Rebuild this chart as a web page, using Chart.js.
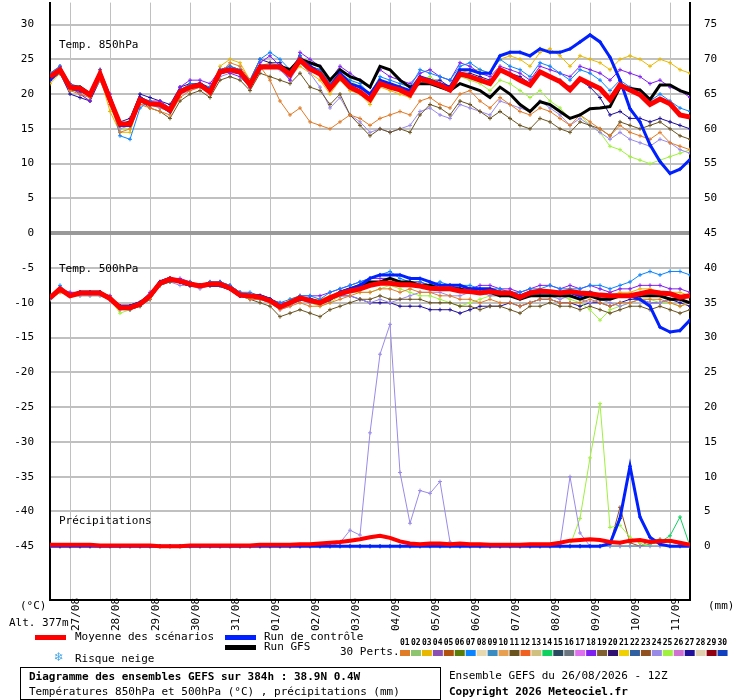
<!DOCTYPE html>
<html>
<head>
<meta charset="utf-8">
<script src="https://cdn.jsdelivr.net/npm/chart.js@4/dist/chart.umd.min.js"></script>
<style>
  body { margin: 0; background: #fff; overflow: hidden; }
  canvas { display: block; margin-top: -20px; }
</style>
</head>
<body>
<canvas id="gefs" width="740" height="720"></canvas>
<script>
// 6-hourly steps from 26/08 12Z, 65 points (0..384h)
const jours = ['27/08','28/08','29/08','30/08','31/08','01/09','02/09','03/09','04/09','05/09','06/09','07/09','08/09','09/09','10/09','11/09'];

// 850 hPa (°C)
const moy850 = [22.5,23.5,21,20.8,19.9,22.9,19.2,15.7,15.7,19.2, 18.6,18.5,17.7,20.3,21,21.3,20.3,23.2,23.5,23.2, 21.3,23.9,23.9,23.9,22.8,24.9,23.6,22.9,20.8,22.5, 21,20.3,19.2,21.5,21,20.6,19.9,22.2,21.8,21.3, 20.6,22.9,22.5,22,21.5,23.5,22.8,22,21.3,23.2, 22.5,21.8,20.6,22.2,21.5,20.8,19.2,21.3,20.6,19.9, 18.5,19.3,18.6,17,16.7];
const ctrl850 = [22,23.5,21,20.5,20,23,19.5,15.5,15.5,19.5, 18.5,18.5,17.5,20.5,21,21.5,20.5,23,23.5,23, 21.5,24,24,24,23,25,24,23,21,23, 21.5,21,20,22,21.5,21,20.5,22.5,22,21.5, 21,23.5,23.5,23,23,25.5,26,26,25.5,26.5, 26,26,26.5,27.5,28.5,27.5,25.3,22,17.9,16, 12.7,10.3,8.6,9.2,10.6];
const gfs850 = [22.5,23.5,21,21,20,23,19,15.5,16,19.5, 18.5,18.5,17.5,20.5,21,21.5,20.5,23,23.5,23, 21.5,24,24,24,23.5,25,24.5,24,22,23.5, 22.5,22,21,24,23.5,22,21,21.5,21.5,21, 20.5,21.5,21,20.5,19.5,21,20,18.5,17.5,18.9, 18.5,17.5,16.5,17,17.9,18,18.2,21,20.8,20.6, 19.2,21.3,21.3,20.5,20];
const p01_850 = [22,23,20.5,20,19.5,22,18.5,14.5,15,18.5, 18,17.5,17,19.5,20.5,21,20,23,24.5,24, 22,24,22,19,17,18,16,15.5,15,16, 17,16.5,15.5,16.5,17,17.5,17,19,19.5,18.5, 18,20,20.5,19,18,19.5,18.5,17.5,17,18, 17.5,16.5,15.5,17,16,15,14,15.5,14.5,14, 13.5,14.5,13,12.5,12];
const p07_850 = [23,24,21.5,21,20,23.5,19.5,14,13.5,18, 19,18.5,18,20.5,21.5,21.5,21,23.5,24,23.5, 22,25,26,25,23.5,25.5,24,23.5,21.5,23, 22,21.5,20,22.5,22,21.5,21,23.5,23,22.5, 22,24,24.5,23.5,23,25,24,23.5,22.5,24.5, 24,23,22,23.5,23,22,20.5,22,21,20.5, 19,20,19,18,17.5];
const p11_850 = [22,23,20.5,20.5,19.5,22.5,19,15.5,16,19, 18,17.5,16.5,19,20,20.5,19.5,22,22.5,22, 20.5,23,22.5,22,21.5,23,21,20.5,18.5,20, 17,15.5,14,15,14.5,15,14.5,17,18.5,18, 17,19,18.5,17.5,16.5,17.5,16.5,15.5,15,16.5, 16,15,14.5,16,15.5,15,14,16,15.5,15, 15.5,16,15,14,13.5];
const p18_850 = [22,24,21,20,19,23.5,20,16,15.5,19.5, 19,19,18,21,22,22,21.5,23.5,23,22.5, 21,24.5,25.5,24,22,26,25,24,22,24, 23,22,21,23.5,22.5,22,21.5,23,23.5,22.5, 22,24.5,24,23,22.5,24,23.5,23,22,24, 23.5,23,22.5,24,23.5,23,22,23.5,23,22.5, 21.5,22,21,20.5,19.5];
const p24_850 = [23,24,21.5,20,19.5,22,18.5,15,15.5,18.5, 18.5,18,17.5,20,20.5,21,20,22.5,23,23, 21,23.5,24,23.5,22,24.5,23,21,18,19.5, 17,16,14.5,15,14.5,15,15.5,17.5,18,17, 16.5,18.5,18,17.5,17,19,18.5,18,17.5,19, 18,17,15.5,16.5,15.5,14.5,13.5,14.5,13.5,13, 12.5,13.5,13,12,11.5];
const p25_850 = [22,23.5,21,21,20,23,19.5,15,15,19, 19,18.5,18,20.5,21,21.5,20.5,23,23.5,23.5, 21.5,24,24,24,23,25,24,23,21,23, 22,21,20,22,21.5,21,20.5,22,22.5,21.5, 21,22.5,22,21.5,20.5,22,21.5,20.5,19.5,20.5, 19,18,16.5,17,15.5,14.5,12.5,12,11,10.5, 10,10.5,11,11.5,12];
const p27_850 = [22,23,20,19.5,19,22,19,16,16.5,20, 19.5,19,18.5,21,21.5,21.5,20.5,23.5,24,23.5, 22,25,24.5,24.5,23,25.5,24,23.5,21.5,23, 21.5,21,20,22,21.5,21,20.5,22.5,22,22, 21,23,23,22.5,22,23.5,23,22.5,21.5,23, 22.5,22,21,22,21,19.5,17,17.5,16.5,16.5, 16,16.5,16,15.5,15];
const p03_850 = [21.5,23,21,20,19,22.5,17.5,14.5,14.5,19, 18.5,18,17.5,20,21,21.5,20.5,24,25,24.5, 22,24,24.5,24,22.5,24,23,22,20,22, 20.5,20,18.5,21,20.5,20,19.5,22,22,21, 20.5,23,23.5,23.5,23,25,25.5,25,24,26, 26.5,25.5,24,25.5,25,24.5,23.5,25,25.5,25, 24,25,24.5,23.5,23];

// 500 hPa (°C)
const moy500 = [-9.3,-8,-9,-8.6,-8.6,-8.6,-9.4,-10.7,-10.7,-10.2, -9,-7.2,-6.6,-6.9,-7.3,-7.6,-7.3,-7.3,-7.9,-8.9, -9,-9.2,-9.7,-10.6,-10,-9.3,-9.7,-10,-9.3,-8.7, -8.3,-8,-7.5,-7.2,-7.2,-7.4,-7.4,-7.6,-7.9,-8, -8,-8.3,-8.4,-8.6,-8.4,-8.6,-8.6,-9.2,-8.6,-8.3, -8.4,-8.6,-8.4,-8.6,-8.7,-8.9,-9,-9,-9,-8.7, -8.4,-8.6,-8.7,-9.2,-9];
const ctrl500 = [-9.3,-8,-9,-8.5,-8.5,-8.5,-9.5,-10.5,-10.5,-10, -9,-7,-6.5,-7,-7.5,-7.5,-7.5,-7.5,-8,-9, -9,-9,-9.5,-10.5,-10,-9.5,-9.5,-10,-9.5,-8.5, -8,-7.5,-6.5,-6,-6,-6,-6.5,-6.5,-7,-7.5, -7.5,-7.5,-8,-8,-8,-8.5,-8.5,-9,-8.5,-8.5, -8.5,-8.5,-8.5,-9,-8.5,-9,-9,-9,-9,-9.5, -10.5,-13.5,-14.2,-14,-12.5];
const gfs500 = [-9.3,-8,-9,-8.5,-8.5,-8.5,-9.5,-10.5,-10.5,-10, -9,-7,-6.5,-7,-7.5,-7.5,-7.5,-7.5,-8,-9, -9,-9,-9.5,-10.5,-10,-9.5,-9.5,-10,-9.5,-8.5, -8,-7.5,-7,-7,-6.5,-7,-7,-7.5,-7.5,-8, -8,-8,-8.5,-8.5,-8.5,-9,-9,-9.5,-9,-9, -9,-9,-9,-9.5,-9,-9.5,-9.5,-9,-9,-9, -9,-9,-9.5,-9.5,-10];
const p01_500 = [-9.5,-8.5,-9,-8.5,-8.5,-8.5,-9.5,-11,-10.5,-10, -9.5,-7.5,-6.5,-7,-7.5,-7.5,-7.5,-7.5,-8,-9, -9.5,-9.5,-10,-11,-10.5,-10,-10.5,-10.5,-10,-9.5, -9,-8.5,-8.5,-8,-8,-8.5,-8,-8.5,-8.5,-9, -9,-9.5,-9.5,-10,-9.5,-10,-10,-10.5,-10,-9.5, -9.5,-10,-10,-10,-9.5,-10,-10.5,-10,-10,-9.5, -9.5,-9.5,-10,-10.5,-10];
const p07_500 = [-9.5,-7.5,-9,-8.5,-8.5,-8.5,-9.5,-10.5,-10.5,-10, -9,-7,-6.5,-7,-7,-7.5,-7,-7,-7.5,-8.5, -8.5,-9,-9.5,-10,-9.5,-9,-9,-9.5,-8.5,-8, -7.5,-7,-6.5,-6,-5.5,-6.5,-7,-7,-7.5,-7, -7.5,-7.5,-7.5,-8,-8,-8,-8.5,-8.5,-8,-8, -7.5,-8,-8,-8,-7.5,-7.5,-8,-7.5,-7,-6, -5.5,-6,-5.5,-5.5,-6];
const p11_500 = [-9,-8,-9,-8.5,-8.5,-8.5,-9.5,-10.5,-11,-10.5, -9.5,-7.5,-7,-7,-7.5,-7.5,-7.5,-7.5,-8,-9, -9.5,-10,-10.5,-12,-11.5,-11,-11.5,-12,-11,-10.5, -10,-9.5,-9.5,-9,-9.5,-9.5,-9.5,-9.5,-10,-10, -10,-10.5,-10.5,-11,-10.5,-10.5,-11,-11.5,-10.5,-10.5, -10,-10.5,-10.5,-11,-10.5,-11,-11.5,-11,-10.5,-10.5, -11,-10.5,-11,-11.5,-11];
const p18_500 = [-9,-8,-8.5,-8.5,-8.5,-8.5,-9,-10.5,-10.5,-10, -8.5,-7,-6.5,-6.5,-7,-7.5,-7,-7,-7.5,-8.5, -9,-9,-9.5,-10,-10,-9,-9,-9,-8.5,-8, -7.5,-7,-6.5,-6.5,-6.5,-7,-7,-7,-7.5,-7.5, -7.5,-8,-8,-7.5,-7.5,-8,-8,-8.5,-8,-7.5, -7.5,-8,-7.5,-8,-7.5,-8,-8.5,-8,-8,-7.5, -7.5,-7.5,-8,-8,-8.5];
const p24_500 = [-9.5,-8,-9,-9,-9,-9,-9.5,-11,-11,-10.5, -9.5,-7.5,-7,-7.5,-7.5,-8,-7.5,-7.5,-8,-9, -9.5,-9.5,-10,-11,-10.5,-9.5,-10,-10,-9.5,-9, -9,-9.5,-10,-9.5,-10,-9.5,-9,-8.5,-8.5,-8.5, -9,-9,-8.5,-8.5,-9,-9,-9,-9.5,-9,-9, -9,-9.5,-9,-9.5,-10,-9.5,-10,-10.5,-10,-9.5, -10,-10,-9.5,-9.5,-10];
const p25_500 = [-9.5,-8.5,-9,-9,-9,-9,-9.5,-11.5,-11,-10.5, -9,-7,-6.5,-7,-7.5,-7.5,-7.5,-7.5,-8,-9, -9,-9.5,-10,-10.5,-10,-9.5,-10,-10.5,-10,-9, -8.5,-8.5,-8.5,-8,-7.5,-8,-8.5,-9,-9,-9.5, -10,-10.5,-10,-9.5,-9,-9,-9,-9.5,-9,-8.5, -8.5,-9,-9.5,-10,-11,-12.5,-11,-10.5,-10,-9.5, -9.5,-10,-10,-10.5,-10];
const p27_500 = [-9,-8,-9,-8.5,-8.5,-8.5,-9.5,-10.5,-10.5,-10, -9,-7,-6.5,-7,-7.5,-7.5,-7.5,-7,-8,-9, -9,-9.5,-9.5,-10.5,-10,-9.5,-10,-10,-9.5,-9, -9,-9.5,-10,-10,-10,-10.5,-10.5,-10.5,-11,-11, -11,-11.5,-11,-10.5,-10.5,-10.5,-10,-10.5,-10,-9.5, -9.5,-10,-10,-10.5,-10,-10,-10.5,-10,-9.5,-9.5, -10,-10,-9.5,-10,-10.5];
const p03_500 = [-9,-8,-9,-8.5,-8.5,-8.5,-9,-10.5,-10.5,-10, -9,-7.5,-6.5,-7,-7,-7.5,-7,-7,-7.5,-8.5, -9,-9,-9.5,-10.5,-9.5,-9,-9.5,-9.5,-9,-8.5, -8,-7.5,-7.5,-7,-7,-7,-7,-7.5,-7.5,-7.5, -8,-8,-8,-8.5,-8.5,-9,-9,-9,-8.5,-8.5, -8.5,-8.5,-8,-8.5,-8.5,-9,-9,-8.5,-8.5,-8, -8,-8.5,-8.5,-8.5,-9];

// précipitations (mm)
const moyPrec = [0.2,0.2,0.2,0.2,0.2,0.1,0.1,0.1,0.1,0.1, 0.1,0,0,0,0.1,0.1,0.1,0.1,0.1,0.1, 0.1,0.2,0.2,0.2,0.2,0.3,0.3,0.4,0.5,0.6, 0.8,1,1.3,1.5,1.2,0.7,0.4,0.3,0.4,0.4, 0.3,0.4,0.3,0.3,0.2,0.2,0.2,0.2,0.3,0.3, 0.3,0.5,0.8,0.9,1,0.9,0.6,0.5,0.8,0.9, 0.6,0.7,0.8,0.5,0.2];
const ctrlPrec = [0,0,0,0,0,0,0,0,0,0, 0,0,0,0,0,0,0,0,0,0, 0,0,0,0,0,0,0,0,0,0, 0,0,0,0,0,0,0,0,0,0, 0,0,0,0,0,0,0,0,0,0, 0,0,0,0,0,0,0.4,4,11.5,4.2, 1.3,0.3,0,0,0];
const p24Prec = [0,0,0,0,0,0,0,0,0,0, 0,0,0,0,0,0,0,0,0,0, 0,0,0,0,0,0,0,0,0,0.5, 2.3,1.6,16.3,27.6,31.9,10.6,3.3,8,7.6,9.3, 0.6,0,0,0,0,0,0,0,0,0, 0,0.2,10,1.9,0,0,0,0,0,0, 0,0,0,0,0];
const p25Prec = [0,0,0,0,0,0,0,0,0,0, 0,0,0,0,0,0,0,0,0,0, 0,0,0,0,0,0,0,0,0,0, 0,0,0,0,0,0,0,0,0,0, 0,0,0,0,0,0,0,0,0,0, 0,0,0.1,4,12.7,20.5,2.7,3,1.3,0.4, 0,0,0,0,0];
const p23Prec = [0,0,0,0,0,0,0,0,0,0, 0,0,0,0,0,0,0,0,0,0, 0,0,0,0,0,0,0,0,0,0, 0,0,0,0,0,0,0,0,0,0, 0,0,0,0,0,0,0,0,0,0, 0,0,0,0,0,0,0.3,5.6,0.5,0, 0.8,1,0.6,0.3,0];
const p14Prec = [0,0,0,0,0,0,0,0,0,0, 0,0,0,0,0,0,0,0,0,0, 0,0,0,0,0,0,0,0,0,0, 0,0,0,0,0,0,0,0,0,0, 0,0,0,0,0,0,0,0,0,0, 0,0,0,0,0,0,0,0,0,0, 0.3,0.6,1.5,4.2,0];

const couleursPerts = ['#e07b28','#8cc56d','#e8b800','#8a4fb0','#b0520e','#5a7d0a','#0a84ff','#e8d8b0','#3a8cc0','#e8a050',
  '#6b5320','#f06020','#d0c080','#10d060','#2a4860','#6a7580','#e070f0','#8020f0','#806030','#301070',
  '#f0d000','#3060a0','#905020','#9a8ae8','#a0f040','#d070d0','#20109a','#e0d0b0','#900010','#1040c0'];

const membres = [
  ['01', p01_850, p01_500], ['07', p07_850, p07_500], ['11', p11_850, p11_500], ['18', p18_850, p18_500],
  ['24', p24_850, p24_500], ['25', p25_850, p25_500], ['27', p27_850, p27_500], ['03', p03_850, p03_500]
];
const precMembres = [['24', p24Prec], ['25', p25Prec], ['23', p23Prec], ['14', p14Prec]];

function pts(arr) {
    return arr.map((v, i) => ({ x: i, y: v }));
}
function serie(arr, couleur, largeur, ordre, axe, points) {
    return {
        data: pts(arr),
        borderColor: couleur,
        backgroundColor: couleur,
        borderWidth: largeur,
        pointRadius: points ? 2 : 0,
        pointStyle: 'cross',
        pointBorderWidth: 1,
        tension: 0,
        order: ordre,
        yAxisID: axe || 'y'
    };
}

let datasets = [];
membres.forEach(([n, a, b]) => {
    let c = couleursPerts[parseInt(n) - 1];
    datasets.push(serie(a, c, 1, 10, 'y', true));
    datasets.push(serie(b, c, 1, 10, 'y', true));
});
precMembres.forEach(([n, a]) => {
    datasets.push(serie(a, couleursPerts[parseInt(n) - 1], 1, 10, 'y2', true));
});
datasets.push(serie(gfs850, '#000', 3, 3), serie(gfs500, '#000', 3, 3));
datasets.push(serie(ctrl850, '#0020ff', 3, 2, 'y', true), serie(ctrl500, '#0020ff', 3, 2, 'y', true), serie(ctrlPrec, '#0020ff', 3, 2, 'y2', true));
datasets.push(serie(moy850, '#ff0000', 5, 0), serie(moy500, '#ff0000', 5, 0), serie(moyPrec, '#ff0000', 4, 0, 'y2'));

const mono = '"DejaVu Sans Mono", monospace';

const textes = {
    id: 'textes',
    afterDraw(chart) {
        const c = chart.ctx;
        c.save();
        c.translate(0, 20); // canvas is shifted up by 20px on the page
        c.fillStyle = '#000';
        c.textBaseline = 'middle';
        c.font = '11px ' + mono;
        c.fillText('Temp. 850hPa', 59, 45);
        c.fillText('Temp. 500hPa', 59, 269);
        c.fillText('Précipitations', 59, 521);
        c.fillText('(°C)', 20, 606);
        c.fillText('Alt. 377m', 9, 623);
        c.fillText('(mm)', 708, 606);
        // dates
        const xs = chart.scales.x;
        jours.forEach((j, k) => {
            c.save();
            c.translate(xs.getPixelForValue(2 + 4 * k) + 6, 631);
            c.rotate(-Math.PI / 2);
            c.textAlign = 'left';
            c.fillText(j, 0, 0);
            c.restore();
        });
        // légende
        c.fillStyle = '#ff0000'; c.fillRect(35, 635, 31, 5);
        c.fillStyle = '#0020ff'; c.fillRect(225, 635, 31, 5);
        c.fillStyle = '#000'; c.fillRect(225, 645, 31, 5);
        c.fillText('Moyenne des scénarios', 75, 637);
        c.fillText('Run de contrôle', 264, 637);
        c.fillText('Run GFS', 264, 647);
        c.fillText('Risque neige', 75, 659);
        c.fillText('30 Perts.', 340, 652);
        c.fillStyle = '#4aa8e8';
        c.font = '12px "DejaVu Sans"';
        c.fillText('❄', 54, 658);
        c.font = 'bold 8px ' + mono;
        couleursPerts.forEach((col, k) => {
            const x = 400 + k * 10.95;
            c.fillStyle = '#000';
            c.fillText(String(k + 1).padStart(2, '0'), x, 643);
            c.fillStyle = col;
            c.fillRect(x, 650, 10, 6);
        });
        // cadres du titre
        c.strokeStyle = '#000';
        c.lineWidth = 1;
        c.strokeRect(20.5, 667.5, 420, 32);
        c.fillStyle = '#000';
        c.font = 'bold 11px ' + mono;
        c.fillText('Diagramme des ensembles GEFS sur 384h : 38.9N 0.4W', 29, 677);
        c.fillText('Copyright 2026 Meteociel.fr', 449, 692);
        c.font = '11px ' + mono;
        c.fillText('Températures 850hPa et 500hPa (°C) , précipitations (mm)', 29, 692);
        c.fillText('Ensemble GEFS du 26/08/2026 - 12Z', 449, 676);
        c.restore();
    }
};

new Chart(document.getElementById('gefs'), {
    type: 'line',
    data: { datasets: datasets },
    plugins: [textes],
    options: {
        responsive: false,
        devicePixelRatio: 1,
        animation: false,
        layout: { padding: 0 },
        plugins: { legend: { display: false }, tooltip: { enabled: false } },
        scales: {
            x: {
                type: 'linear', min: 0, max: 64,
                afterBuildTicks: (s) => { s.ticks = jours.map((j, k) => ({ value: 2 + 4 * k })); },
                afterFit: (s) => { s.height = 100; },
                ticks: { display: false },
                grid: { color: '#c0c0c0', lineWidth: 1, drawTicks: false },
                border: { color: '#000', width: 2 }
            },
            y: {
                min: -52.73, max: 33.15,
                afterBuildTicks: (s) => {
                    s.ticks = [];
                    for (let v = -45; v <= 30; v += 5) s.ticks.push({ value: v });
                },
                afterFit: (s) => { s.width = 50; },
                ticks: { color: '#000', font: { family: mono, size: 11 }, padding: 16 },
                grid: { color: (c) => c.tick && c.tick.value === 0 ? '#999' : '#c0c0c0', lineWidth: (c) => c.tick && c.tick.value === 0 ? 4 : 2, drawTicks: false },
                border: { color: '#000', width: 2 }
            },
            y2: {
                position: 'right',
                min: -7.73, max: 78.15,
                afterBuildTicks: (s) => {
                    s.ticks = [];
                    for (let v = 0; v <= 75; v += 5) s.ticks.push({ value: v });
                },
                afterFit: (s) => { s.width = 50; },
                ticks: { color: '#000', font: { family: mono, size: 11 }, padding: 14 },
                grid: { display: false, drawTicks: false },
                border: { color: '#000', width: 2 }
            }
        }
    }
});
</script>
</body>
</html>
